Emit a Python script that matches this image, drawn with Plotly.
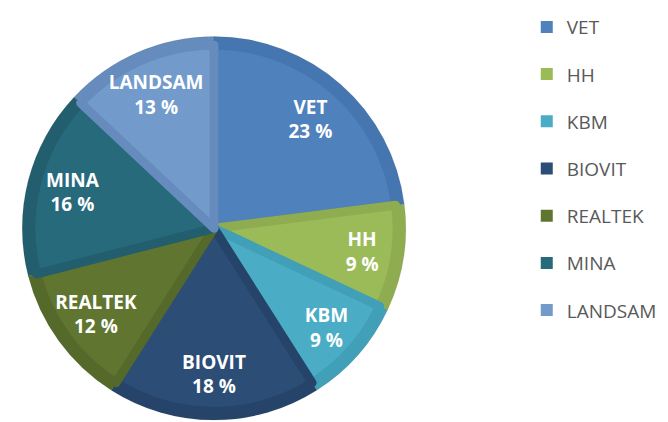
import plotly.graph_objects as go

categories = ["VET", "HH", "KBM", "BIOVIT", "REALTEK", "MINA", "LANDSAM"]
shares = [23, 9, 9, 18, 12, 16, 13]
colors = ["#4F81BD", "#9BBB59", "#4BACC6", "#2C4D75", "#5F7530", "#276A7C", "#729ACA"]
edge_colors = ["#4676B0", "#8FAD50", "#429FB8", "#26446A", "#55692B", "#225E6E", "#668CBE"]

# the page body keeps its default 8px margin, so the figure is drawn 8px in
W, H = 660, 414
cx, cy, r = 206, 214, 198
inset = 9

def dom(rad):
    return dict(x=[(cx - rad) / W, (cx + rad) / W],
                y=[(H - (cy + rad)) / H, (H - (cy - rad)) / H])

fig = go.Figure()
fig.add_trace(go.Pie(
    labels=categories, values=shares, sort=False, direction="clockwise", rotation=0,
    marker=dict(colors=edge_colors, line=dict(color="rgba(0,0,0,0.08)", width=1)),
    textinfo="none", hoverinfo="skip", showlegend=False, domain=dom(r),
))
fig.add_trace(go.Pie(
    labels=categories, values=shares, sort=False, direction="clockwise", rotation=0,
    marker=dict(colors=colors, line=dict(color=edge_colors, width=9)),
    textinfo="none", showlegend=False, domain=dom(r - inset),
))
fig.add_trace(go.Pie(
    labels=categories, values=shares, sort=False, direction="clockwise", rotation=0,
    hole=0.52,
    marker=dict(colors=["rgba(0,0,0,0)"] * len(categories), line=dict(width=0)),
    texttemplate="<b>%{label}<br>%{value} %</b>", textposition="inside",
    insidetextorientation="horizontal",
    textfont=dict(family="Open Sans", size=19, color="white"),
    hoverinfo="skip", showlegend=False, domain=dom(r),
))

for c, col in zip(categories, colors):
    fig.add_trace(go.Scatter(
        x=[None], y=[None], mode="markers", name=c, legendgroup=c,
        marker=dict(symbol="square", size=12, color=col),
    ))

fig.update_layout(
    width=W, height=H, margin=dict(l=0, r=0, t=0, b=0),
    paper_bgcolor="white", plot_bgcolor="white",
    xaxis=dict(visible=False), yaxis=dict(visible=False),
    uniformtext=dict(minsize=19, mode="show"),
    legend=dict(x=0.786, y=0.632, xanchor="left", yanchor="middle",
                font=dict(family="Open Sans", size=19, color="#595959"),
                tracegroupgap=19.5, itemsizing="constant"),
)

fig.write_html("out.html")
